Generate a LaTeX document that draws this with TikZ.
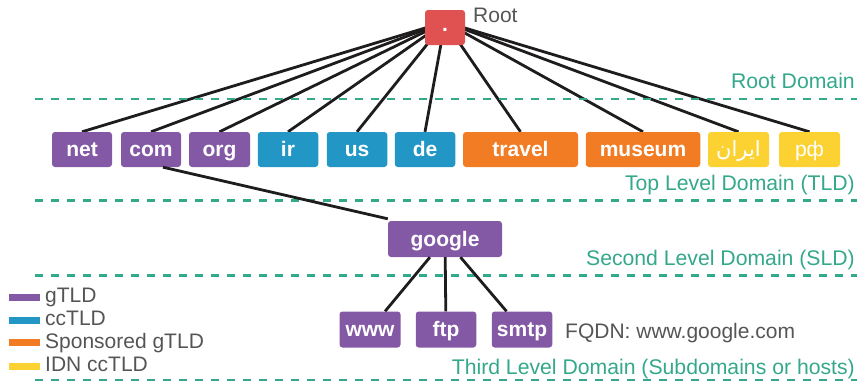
\documentclass[tikz,border=0pt]{standalone}
\usepackage{fontspec}
\setmainfont{Liberation Sans}
\newfontfamily\arabicfont[Script=Arabic]{DejaVu Sans}
\TeXXeTstate=1
\usetikzlibrary{backgrounds}
\definecolor{cpurple}{RGB}{131,88,165}
\definecolor{cblue}{RGB}{34,150,196}
\definecolor{corange}{RGB}{242,124,35}
\definecolor{cyellow}{RGB}{251,210,50}
\definecolor{cred}{RGB}{224,82,82}
\definecolor{cteal}{RGB}{52,168,138}
\definecolor{cgray}{RGB}{85,85,85}
\definecolor{cline}{RGB}{30,28,28}
\begin{document}
\begin{tikzpicture}[x=1pt,y=-1pt,
  box/.style={rounded corners=3pt, inner sep=0pt, minimum height=35pt,
    text=white, font=\fontsize{21}{25}\selectfont\bfseries,
    text height=14.6pt, text depth=0pt},
  gbox/.style={box, fill=cpurple},
  cbox/.style={box, fill=cblue},
  sbox/.style={box, fill=corange},
  ibox/.style={box, fill=cyellow, font=\fontsize{21}{25}\selectfont},
  lvl/.style={text=cteal, font=\fontsize{21.2}{25}\selectfont, inner sep=0pt, anchor=base east},
  note/.style={text=cgray, font=\fontsize{21}{25}\selectfont, inner sep=0pt, anchor=base west},
  legbar/.style={inner sep=0pt, minimum width=31pt, minimum height=7pt},
  edge/.style={draw=cline, line width=2.8pt},
  level/.style={draw=cteal, line width=2.5pt, dash pattern=on 8pt off 8pt}
]
\useasboundingbox (0,0) rectangle (857,383);

% dashed level separators
\coordinate (d1a) at (35,99);  \coordinate (d1b) at (857,99);
\coordinate (d2a) at (35,200.5); \coordinate (d2b) at (857,200.5);
\coordinate (d3a) at (35,275.5); \coordinate (d3b) at (857,275.5);
\coordinate (d4a) at (35,380); \coordinate (d4b) at (857,380);
\draw[level] (d1a) -- (d1b);
\draw[level] (d2a) -- (d2b);
\draw[level] (d3a) -- (d3b);
\draw[level] (d4a) -- (d4b);

% root
\node[box, fill=cred, minimum width=40pt, text height=8pt] (root) at (445,27.5) {.};
\node[note] (rootlab) at (473,22.7) {Root};

% TLDs
\node[gbox, minimum width=60pt] (net) at (82,149.5) {net};
\node[gbox, minimum width=60pt] (com) at (151,149.5) {com};
\node[gbox, minimum width=61pt] (org) at (219.5,149.5) {org};
\node[cbox, minimum width=60.5pt] (ir) at (288,149.5) {ir};
\node[cbox, minimum width=60.5pt] (us) at (357,149.5) {us};
\node[cbox, minimum width=60.5pt] (de) at (425,149.5) {de};
\node[sbox, minimum width=115pt] (travel) at (520.5,149.5) {travel};
\node[sbox, minimum width=114.5pt] (museum) at (643,149.5) {museum};
\node[ibox, minimum width=61pt] (iran) at (738.5,149.5) {\arabicfont\beginR ایران\endR};
\node[ibox, minimum width=61pt] (rf) at (809.5,149.5) {рф};

% SLD
\node[gbox, minimum width=114pt, minimum height=36pt] (google) at (445,239) {google};

% hosts
\node[gbox, minimum width=61pt, minimum height=36pt] (www) at (370,329.5) {www};
\node[gbox, minimum width=60.5pt, minimum height=36pt] (ftp) at (446,329.5) {ftp};
\node[gbox, minimum width=60.5pt, minimum height=36pt] (smtp) at (522,329.5) {smtp};
\node[note] (fqdn) at (565,338) {FQDN: www.google.com};

% level labels
\node[lvl] (l1) at (855,88) {Root Domain};
\node[lvl] (l2) at (855,190.7) {Top Level Domain (TLD)};
\node[lvl] (l3) at (855,265) {Second Level Domain (SLD)};
\node[lvl] (l4) at (855,374) {Third Level Domain (Subdomains or hosts)};

% legend
\node[legbar, fill=cpurple] (k1) at (24,297.5) {};
\node[legbar, fill=cblue] (k2) at (24,320) {};
\node[legbar, fill=corange] (k3) at (24,342.5) {};
\node[legbar, fill=cyellow] (k4) at (24,366.5) {};
\node[note] (t1) at (45,302.5) {gTLD};
\node[note] (t2) at (45,325.5) {ccTLD};
\node[note] (t3) at (45,348) {Sponsored gTLD};
\node[note] (t4) at (45,371) {IDN ccTLD};

% connectors
\begin{scope}[on background layer]
\coordinate (rc) at (445,22);
\foreach \n in {net,com,org,ir,us,de,travel,museum,iran,rf}
  \draw[edge] (rc) -- (\n.north);
\end{scope}
\draw[edge] ([xshift=12pt]com.south) -- ([yshift=2pt]google.north west);
\draw[edge] (google) -- (www);
\draw[edge] (google) -- (ftp);
\draw[edge] (google) -- (smtp);
\end{tikzpicture}
\end{document}
